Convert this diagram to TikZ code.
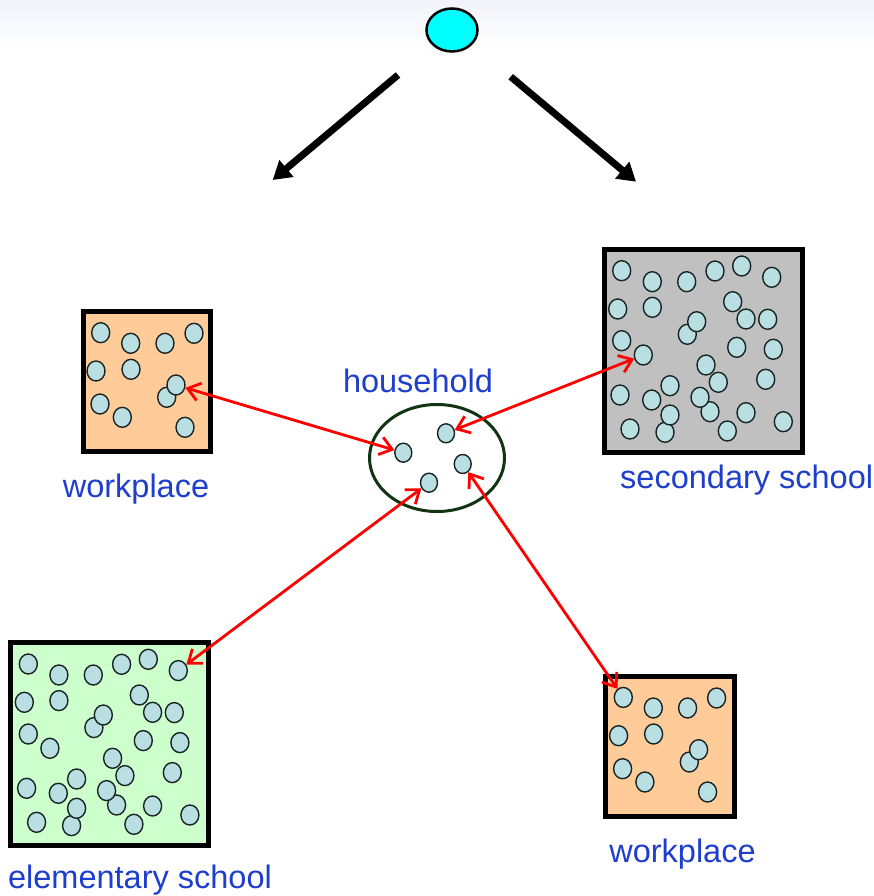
\documentclass[tikz,border=0pt]{standalone}
\usepackage{fontspec}
\setmainfont{Liberation Sans}
\usetikzlibrary{arrows.meta,shapes.geometric}

\definecolor{bgtop}{RGB}{242,243,250}
\definecolor{peach}{RGB}{255,204,153}
\definecolor{schoolgray}{RGB}{192,192,192}
\definecolor{schoolgreen}{RGB}{204,255,204}
\definecolor{dotfill}{RGB}{185,223,226}
\definecolor{dotline}{RGB}{25,35,35}
\definecolor{labelblue}{RGB}{30,62,205}
\definecolor{homegreen}{RGB}{18,52,18}
\definecolor{linkred}{RGB}{255,0,0}
\definecolor{topcyan}{RGB}{0,255,255}

% dot positions inside a school, relative to its outer top-left corner
\def\schoolcrowd{1/20/24, 2/50.6/35, 3/85/35, 4/113.3/24.3, 5/140/19.3,
  6/170/30.6, 7/16/62.3, 8/50.6/60.6, 9/131/55, 10/144.3/72.3, 11/166/72.6,
  13/85.6/87.6, 12/95/75, 14/20/94, 15/41.6/108.3, 16/135/100.6,
  17/171.6/102.6, 18/104.3/118.3, 19/116.6/135.6, 20/164/132.6, 21/68.3/139,
  22/18.3/148.3, 23/50/153.3, 25/108.3/165, 24/98.3/150.6, 30/63.3/185.6,
  26/68.3/168.3, 27/144.3/166, 28/181.6/175, 29/28.3/182.3, 31/125.6/184.3}
% dot positions inside a workplace, relative to its outer top-left corner
\def\workcrowd{1/20/23.4, 2/50/34, 3/84.3/34, 4/113.3/24, 5/15.3/61.7,
  6/50.3/60, 8/86/88, 7/95.3/75.7, 9/19.3/94.7, 10/41.6/108, 11/104.3/118}

\begin{document}
\begin{tikzpicture}[x=1pt,y=-1pt,
  person/.style={ellipse, draw=dotline, line width=1.4pt, fill=dotfill,
    minimum width=18pt, minimum height=20pt, inner sep=0pt},
  homeperson/.style={person, minimum width=17pt, minimum height=19pt},
  venue/.style={draw=black, line width=5pt},
  caption/.style={text=labelblue, anchor=base, inner sep=0pt,
    font=\fontsize{32.5}{39}\selectfont},
  link/.style={draw=linkred, line width=2.8pt, line cap=round, line join=round,
    arrows={Straight Barb[length=12pt,width=18pt]-Straight Barb[length=12pt,width=18pt]}},
  split/.style={draw=black, line width=7pt,
    -{Triangle[length=18pt,width=21pt]}}]

\useasboundingbox (0,0) rectangle (874,896);
\fill[white] (0,0) rectangle (874,896);
\fill[top color=bgtop, bottom color=white] (0,0) rectangle (874,52);

% the individual at the top and the two branches
\node[ellipse, draw=black, line width=2.5pt, fill=topcyan,
  minimum width=51pt, minimum height=43pt, inner sep=0pt] (agent) at (452,30) {};
\coordinate (lstart) at (398,75);
\coordinate (ltip) at (272.7,180);
\coordinate (rstart) at (510.7,76.7);
\coordinate (rtip) at (636,181.7);
\draw[split] (lstart) -- (ltip);
\draw[split] (rstart) -- (rtip);

% workplace, left
\draw[venue, fill=peach] (83.2,311.8) rectangle (210.2,451.5);
\begin{scope}[shift={(80.7,309.3)}]
  \foreach \n/\px/\py in \workcrowd {\node[person] (wa\n) at (\px,\py) {};}
\end{scope}
\node[caption] (walabel) at (136,497) {workplace};

% secondary school
\draw[venue, fill=schoolgray] (604.2,249.2) rectangle (802.5,452.5);
\begin{scope}[shift={(601.7,246.7)}]
  \foreach \n/\px/\py in \schoolcrowd {\node[person] (sec\n) at (\px,\py) {};}
\end{scope}
\node[caption] (seclabel) at (746.7,488) {secondary school};

% elementary school
\draw[venue, fill=schoolgreen] (10.8,642.5) rectangle (208.2,845.8);
\begin{scope}[shift={(8.3,640)}]
  \foreach \n/\px/\py in \schoolcrowd {\node[person] (ele\n) at (\px,\py) {};}
\end{scope}
\node[caption] (elelabel) at (140,888) {elementary school};

% workplace, bottom right
\draw[venue, fill=peach] (605.8,676.5) rectangle (734.2,816.8);
\begin{scope}[shift={(603.3,674)}]
  \foreach \n/\px/\py in \workcrowd {\node[person] (wb\n) at (\px,\py) {};}
\end{scope}
\node[caption] (wblabel) at (682.5,862) {workplace};

% household
\draw[homegreen, line width=3pt] (437,458) ellipse [x radius=67.5, y radius=53.5];
\node[caption] (homelabel) at (418,392) {household};
\node[homeperson] (h1) at (403.3,452.7) {};
\node[homeperson] (h2) at (446,433.3) {};
\node[homeperson] (h3) at (462.7,464) {};
\node[homeperson] (h4) at (429,482.7) {};

% contacts between the household members and their venues
\draw[link] (wa7) -- (h1);
\draw[link] (h2) -- (sec15);
\draw[link] (h4) -- (ele6);
\draw[link] (h3) -- (wb1);

\end{tikzpicture}
\end{document}
